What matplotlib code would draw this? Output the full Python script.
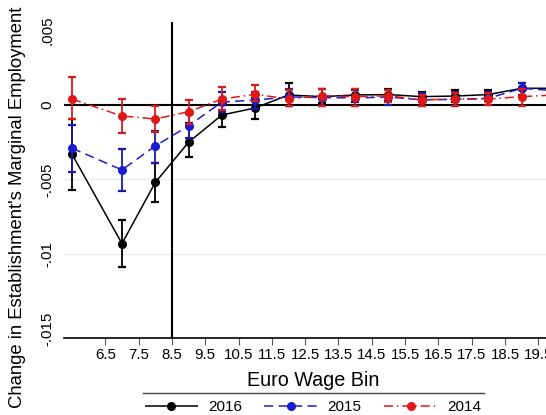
import matplotlib
matplotlib.use("Agg")
import matplotlib.pyplot as plt
from matplotlib.lines import Line2D
import numpy as np

plt.rcParams['font.family'] = ['Liberation Sans', 'DejaVu Sans']

# Wage bins (bin midpoints) and estimated coefficients with 95% CI bounds
bins = [5.5, 7, 8, 9, 10, 11, 12, 13, 14, 15, 16, 17, 18, 19, 20]

coef_2016 = [-0.0033, -0.0093, -0.0052, -0.0025, -0.00067, -0.0002, 0.00067, 0.00056, 0.00067, 0.0007, 0.00056, 0.0006, 0.0007, 0.00112, 0.00112]
lo_2016 = [-0.0057, -0.0109, -0.0065, -0.0035, -0.0015, -0.00094, -0.0001, 0.0001, 0.0002, 0.0003, 0.0002, 0.0002, 0.0003, 0.0007, 0.0007]
hi_2016 = [-0.00096, -0.0077, -0.0039, -0.0012, 0.00013, 0.0005, 0.00146, 0.0011, 0.0011, 0.00106, 0.0009, 0.001, 0.001, 0.00146, 0.00146]

coef_2015 = [-0.0029, -0.00436, -0.00275, -0.0014, 0.0002, 0.00033, 0.00054, 0.0005, 0.00047, 0.00054, 0.00034, 0.00038, 0.00045, 0.00112, 0.00096]
lo_2015 = [-0.00452, -0.00577, -0.0039, -0.0022, -0.0005, -0.0003, -0.0001, -0.0001, -0.0001, 0.0000, -0.0001, -0.0001, 0.0000, 0.0006, 0.0005]
hi_2015 = [-0.00134, -0.00295, -0.00174, -0.0006, 0.0009, 0.0009, 0.0011, 0.0011, 0.0010, 0.0010, 0.0008, 0.0009, 0.0009, 0.00146, 0.0014]

coef_2014 = [0.0004, -0.00074, -0.00094, -0.00045, 0.0004, 0.00072, 0.0004, 0.00062, 0.00056, 0.00062, 0.00034, 0.0004, 0.0004, 0.00056, 0.00067]
lo_2014 = [-0.00094, -0.0019, -0.00179, -0.00128, -0.00034, 0.00027, -0.0001, -0.00006, -0.00006, 0.0002, -0.0001, -0.0001, 0.0000, -0.0001, 0.0002]
hi_2014 = [0.0019, 0.0004, -0.00007, 0.00034, 0.00123, 0.00134, 0.001, 0.0011, 0.0011, 0.001, 0.0007, 0.0008, 0.0008, 0.0011, 0.0011]

x_ticks = [6.5, 7.5, 8.5, 9.5, 10.5, 11.5, 12.5, 13.5, 14.5, 15.5, 16.5, 17.5, 18.5, 19.5]
y_ticks = [0.005, 0, -0.005, -0.01, -0.015]
y_tick_labels = [".005", "0", "-.005", "-.01", "-.015"]
min_wage_bin = 8.5

W, H = 546, 415
fig = plt.figure(figsize=(W / 100, H / 100), dpi=100)
ax = fig.add_axes([64 / W, (H - 338) / H, 1 - 64 / W, (338 - 22) / H])

ax.set_xlim(5.26, 19.73)
ax.set_ylim(-0.01564, 0.00557)

# light horizontal grid
for g in [-0.005, -0.01]:
    ax.axhline(g, color="#ececec", lw=1.0, zorder=0)

ax.axhline(0, color="black", lw=1.5, zorder=1)
ax.axvline(min_wage_bin, color="black", lw=1.5, zorder=1)

series = [
    ("2016", coef_2016, lo_2016, hi_2016, "black", "black", (0, ()), ),
    ("2015", coef_2015, lo_2015, hi_2015, "#1c1ccf", "#1a1aa8", (0, (6, 3.5))),
    ("2014", coef_2014, lo_2014, hi_2014, "#e01818", "#d41c1c", (0, (6, 2.5, 1, 2.5))),
]

handles = []
for i, (lab, c, lo, hi, col, ecol, ls) in enumerate(series):
    c = np.array(c)
    err = np.vstack([c - np.array(lo), np.array(hi) - c])
    ax.errorbar(bins, c, yerr=err, fmt="none", ecolor=ecol, elinewidth=1.3,
                capsize=3.0, capthick=1.6, zorder=2 + i)
    h, = ax.plot(bins, c, color=col, lw=1.1, linestyle=ls, marker="o",
                 markersize=5.5, markerfacecolor=col, markeredgecolor=col,
                 zorder=2.5 + i, label=lab)
    handles.append(h)

for s in ["top", "right", "left"]:
    ax.spines[s].set_visible(False)
ax.spines["bottom"].set_linewidth(1.2)

ax.set_xticks(x_ticks)
ax.set_xticklabels([f"{t:g}" for t in x_ticks], fontsize=10.8)
ax.tick_params(axis="x", length=5, width=0.8, color="#555555", pad=2)

ax.set_yticks(y_ticks)
ax.set_yticklabels(y_tick_labels, fontsize=10.8, rotation=90, va="center")
ax.tick_params(axis="y", length=0, pad=7)

ax.set_xlabel("Euro Wage Bin", fontsize=14.2, labelpad=3)
ax.xaxis.set_label_coords(0.517, -0.105)
ax.set_ylabel("Change in Establishment's Marginal Employment", fontsize=13.3)
ax.yaxis.set_label_coords(-0.078, 0.415)

# legend box (top edge) and entries
fig.add_artist(Line2D([143 / W, 484 / W], [(H - 393) / H] * 2, color="#444444", lw=1.0))
fig.legend(handles=handles, loc="center", bbox_to_anchor=(313 / W, (H - 407) / H),
           ncol=3, frameon=False, fontsize=11, handlelength=3.5, columnspacing=1.45,
           handletextpad=0.65, borderaxespad=0)

fig.savefig("out.png", dpi=100)
